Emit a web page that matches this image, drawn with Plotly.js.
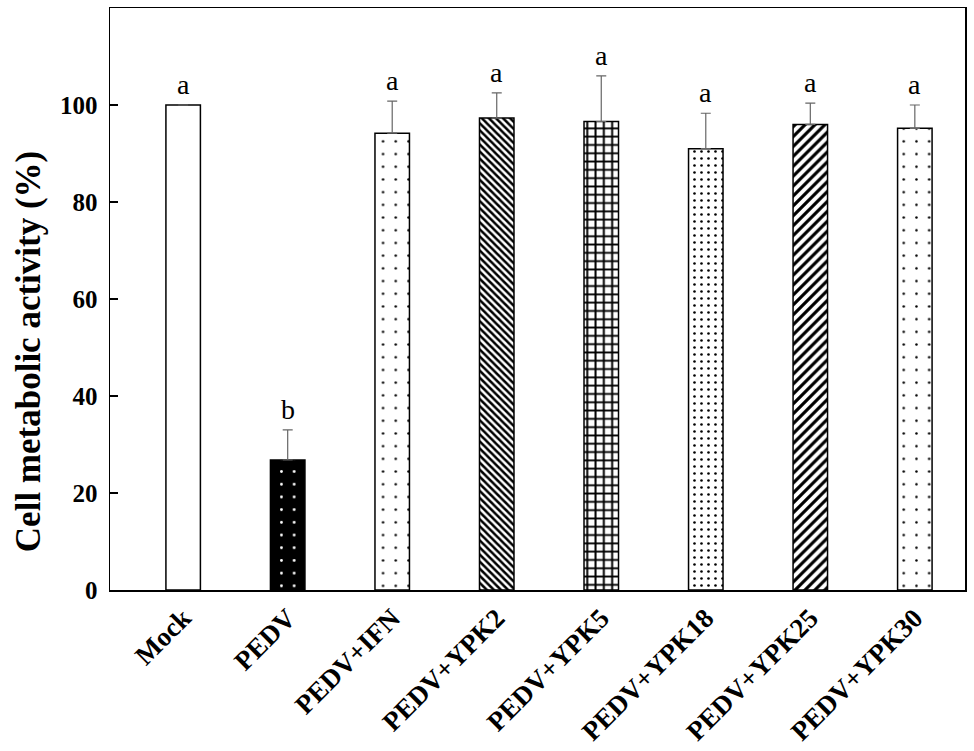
<!DOCTYPE html>
<html>
<head>
<meta charset="utf-8">
<script src="https://cdn.plot.ly/plotly-3.0.1.min.js"></script>
<style>html,body{margin:0;padding:0;background:#fff;}#chart{width:974px;height:751px;}</style>
</head>
<body>
<div id="chart"></div>
<script>
const categories = ["Mock","PEDV","PEDV+IFN","PEDV+YPK2","PEDV+YPK5","PEDV+YPK18","PEDV+YPK25","PEDV+YPK30"];
const values = [100, 26.8, 94.2, 97.3, 96.6, 91.0, 96.0, 95.2];
const errors = [0, 6.2, 6.6, 5.2, 9.4, 7.3, 4.4, 4.8];
const letters = ["a","b","a","a","a","a","a","a"];
const yTickVals = [0, 20, 40, 60, 80, 100];
const yTickText = ["0", "20", "40", "60", "80", "100"];
const yTitle = "Cell metabolic activity (%)";
const patternShapes = ["", ".", ".", "\\", "+", ".", "/", "."];
const patternFg = ["#000","#fff","#000","#000","#000","#000","#000","#000"];
const patternBg = ["#fff","#000","#fff","#fff","#fff","#fff","#fff","#fff"];
const patternSize = [8, 12.7, 12.7, 5, 8.3, 7, 7, 12.7];
const patternSolidity = [0.3, 0.04, 0.03, 0.5, 0.42, 0.11, 0.45, 0.03];

const FONT = "Liberation Serif, Times New Roman, serif";

const traces = categories.map((c, i) => ({
  type: "bar",
  x: [c],
  y: [values[i]],
  width: 0.33,
  marker: {
    color: patternBg[i],
    line: {color: "#000", width: 1.5},
    pattern: {shape: patternShapes[i], fgcolor: patternFg[i], bgcolor: patternBg[i],
              size: patternSize[i], solidity: patternSolidity[i], fillmode: "replace"}
  },
  error_y: {type: "data", array: [errors[i]], arrayminus: [0], symmetric: false,
            color: "#666", thickness: 1.2, width: 5, visible: true},
  hoverinfo: "none"
}));

const annotations = categories.map((c, i) => ({
  x: c, y: values[i] + errors[i], xref: "x", yref: "y",
  text: letters[i], showarrow: false, yanchor: "bottom", yshift: 3,
  font: {family: FONT, size: 28, color: "#000"}
}));
annotations.push({
  xref: "paper", yref: "paper", x: -0.095, y: 0.41, xanchor: "center", yanchor: "middle",
  text: "<b>" + yTitle + "</b>", showarrow: false, textangle: -90,
  font: {family: FONT, size: 35, color: "#000"}
});

const layout = {
  width: 974, height: 751,
  margin: {l: 110, r: 9, t: 8, b: 161},
  paper_bgcolor: "#fff", plot_bgcolor: "#fff",
  showlegend: false, barmode: "overlay",
  font: {family: FONT, color: "#000"},
  xaxis: {
    type: "category", range: [-0.7, 7.48],
    showline: true, mirror: true, linecolor: "#000", linewidth: 1.5,
    ticks: "", tickangle: -45, showgrid: false, zeroline: false,
    tickfont: {family: FONT, size: 27, color: "#000", weight: "bold"}
  },
  yaxis: {
    range: [0, 120], tickvals: yTickVals, ticktext: yTickText,
    showline: true, mirror: true, linecolor: "#000", linewidth: 1.5,
    ticks: "inside", ticklen: 8, tickcolor: "#000", tickwidth: 1.2,
    showgrid: false, zeroline: false, ticklabelstandoff: 6,
    tickfont: {family: FONT, size: 25, color: "#000", weight: "bold"}
  },
  annotations: annotations
};

Plotly.newPlot("chart", traces, layout, {staticPlot: true, displayModeBar: false});
</script>
</body>
</html>
